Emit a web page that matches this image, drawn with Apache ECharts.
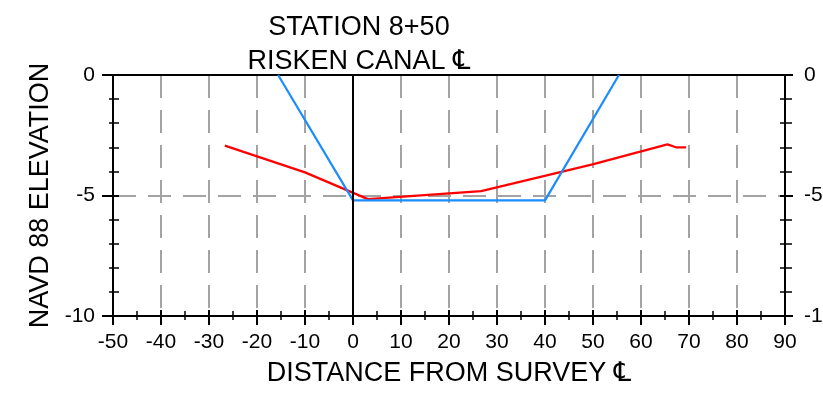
<!DOCTYPE html>
<html>
<head>
<meta charset="utf-8">
<script src="https://cdn.jsdelivr.net/npm/echarts@6/dist/echarts.min.js"></script>
<style>
html,body{margin:0;padding:0;background:#fff;}
#chart{width:823px;height:403px;}
</style>
</head>
<body>
<div id="chart"></div>
<script>
// ---- data ----
const titleLines = ['STATION 8+50', 'RISKEN CANAL \u2104'];
const xAxisTitle = 'DISTANCE FROM SURVEY \u2104';
const yAxisTitle = 'NAVD 88 ELEVATION';
const xRange = [-50, 90];
const xStep = 10;
const yRange = [-10, 0];
const yStep = 5;
const centerLineX = [0];

const designX = [-15.6, 0, 40, 55.4];
const designY = [0, -5.2, -5.2, 0];

const groundX = [-26.7, -10, 3.1, 26.7, 49.9, 65.5, 67.3, 69.4];
const groundY = [-2.93, -4.04, -5.15, -4.82, -3.71, -2.88, -3.0, -3.0];

const pairs = (xs, ys) => xs.map((x, i) => [x, ys[i]]);

const FONT = '"Liberation Sans", Arial, "DejaVu Sans", sans-serif';
const BLACK = '#000';
const GREY = '#a3a3a3';
const dash = [23, 12];

const chart = echarts.init(document.getElementById('chart'));

const baseX = {
  type: 'value', min: xRange[0], max: xRange[1], interval: xStep,
  position: 'bottom', offset: 0
};
const baseY = {
  type: 'value', min: yRange[0], max: yRange[1], interval: yStep, offset: 0
};

const option = {
  animation: false,
  backgroundColor: '#fff',
  title: {
    text: titleLines.join('\n'),
    left: 354, top: 6, textAlign: 'center',
    textStyle: { fontFamily: FONT, fontSize: 27, fontWeight: 'normal', color: BLACK, lineHeight: 34 }
  },
  grid: { left: 113, right: 38, top: 75, bottom: 87, containLabel: false, outerBoundsMode: 'none' },
  xAxis: [
    Object.assign({}, baseX, {
      axisLine: { show: true, onZero: false, lineStyle: { color: BLACK, width: 2 } },
      axisTick: { show: true, length: 9, lineStyle: { color: BLACK, width: 2 } },
      minorTick: { show: true, splitNumber: 2, length: 4, lineStyle: { color: BLACK, width: 1.5 } },
      axisLabel: { color: BLACK, fontFamily: FONT, fontSize: 21, margin: 16 },
      splitLine: { show: true, lineStyle: { color: GREY, width: 2, type: dash } },
      name: xAxisTitle, nameLocation: 'middle', nameGap: 44,
      nameTextStyle: { color: BLACK, fontFamily: FONT, fontSize: 27 }
    }),
    Object.assign({}, baseX, {
      axisLine: { show: false, onZero: false },
      axisTick: { show: true, inside: true, length: 6, lineStyle: { color: BLACK, width: 2 } },
      minorTick: { show: true, splitNumber: 2, length: 5, lineStyle: { color: BLACK, width: 1.5 } },
      axisLabel: { show: false }, splitLine: { show: false }
    }),
    Object.assign({}, baseX, {
      position: 'top',
      axisLine: { show: true, onZero: false, lineStyle: { color: BLACK, width: 2 } },
      axisTick: { show: false }, axisLabel: { show: false }, splitLine: { show: false }
    })
  ],
  yAxis: [
    Object.assign({}, baseY, {
      position: 'left',
      axisLine: { show: true, onZero: false, lineStyle: { color: BLACK, width: 2 } },
      axisTick: { show: true, length: 11, lineStyle: { color: BLACK, width: 2 } },
      minorTick: { show: true, splitNumber: 5, length: 4, lineStyle: { color: BLACK, width: 1.5 } },
      axisLabel: { color: BLACK, fontFamily: FONT, fontSize: 21, margin: 18 },
      splitLine: { show: true, lineStyle: { color: GREY, width: 2, type: dash } },
      name: yAxisTitle, nameLocation: 'middle', nameGap: 46,
      nameTextStyle: { color: BLACK, fontFamily: FONT, fontSize: 27 }
    }),
    Object.assign({}, baseY, {
      position: 'left',
      axisLine: { show: false, onZero: false },
      axisTick: { show: true, inside: true, length: 6, lineStyle: { color: BLACK, width: 2 } },
      minorTick: { show: true, splitNumber: 5, length: 6, lineStyle: { color: BLACK, width: 1.5 } },
      axisLabel: { show: false }, splitLine: { show: false }
    }),
    Object.assign({}, baseY, {
      position: 'right',
      axisLine: { show: true, onZero: false, lineStyle: { color: BLACK, width: 2 } },
      axisTick: { show: true, length: 8, lineStyle: { color: BLACK, width: 2 } },
      minorTick: { show: true, splitNumber: 5, length: 7, lineStyle: { color: BLACK, width: 1.5 } },
      axisLabel: { color: BLACK, fontFamily: FONT, fontSize: 21, margin: 19 },
      splitLine: { show: false }
    }),
    Object.assign({}, baseY, {
      position: 'right',
      axisLine: { show: false, onZero: false },
      axisTick: { show: true, inside: true, length: 5, lineStyle: { color: BLACK, width: 2 } },
      minorTick: { show: true, splitNumber: 5, length: 5, lineStyle: { color: BLACK, width: 1.5 } },
      axisLabel: { show: false }, splitLine: { show: false }
    })
  ],
  series: [
    {
      name: 'centerline', type: 'line', xAxisIndex: 0, yAxisIndex: 0, data: [], z: 1,
      markLine: {
        silent: true, symbol: ['none', 'none'], label: { show: false },
        lineStyle: { color: BLACK, width: 2, type: 'solid' },
        data: centerLineX.map(v => ({ xAxis: v }))
      }
    },
    {
      name: 'ground', type: 'line', xAxisIndex: 0, yAxisIndex: 0, z: 3,
      data: pairs(groundX, groundY), showSymbol: false, symbol: 'none',
      lineStyle: { color: '#ff0000', width: 2.2 }
    },
    {
      name: 'design', type: 'line', xAxisIndex: 0, yAxisIndex: 0, z: 4,
      data: pairs(designX, designY), showSymbol: false, symbol: 'none',
      lineStyle: { color: '#1a8cff', width: 2.2 }
    }
  ]
};
chart.setOption(option);
</script>
</body>
</html>
